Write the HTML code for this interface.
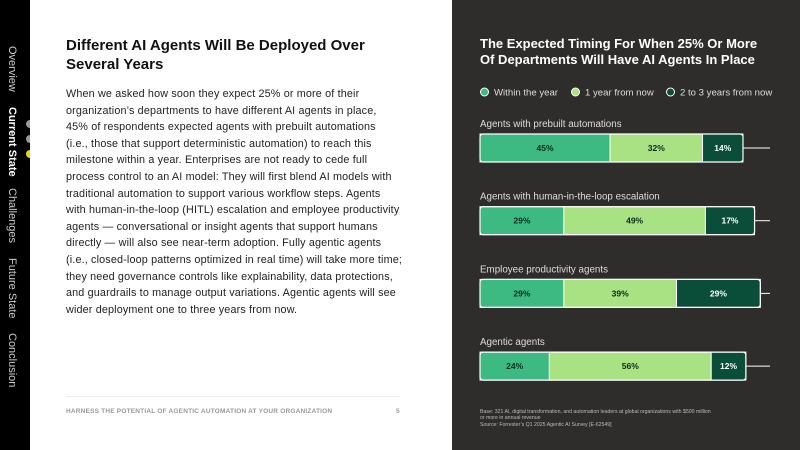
<!DOCTYPE html>
<html><head><meta charset="utf-8"><style>
body{margin:0;width:800px;height:450px;position:relative;overflow:hidden;font-family:"Liberation Sans",sans-serif;}
.side{position:absolute;left:0;top:0;width:30px;height:450px;background:#000;}
.nav{position:absolute;left:6px;color:#ccc;font-size:11px;writing-mode:vertical-rl;white-space:nowrap;}
.left{position:absolute;left:30px;top:0;width:422px;height:450px;background:#fff;}
.right{position:absolute;left:452px;top:0;width:348px;height:450px;background:#2e2d2c;}
h1{position:absolute;left:36px;top:36px;margin:0;font-size:15px;line-height:19px;font-weight:bold;color:#111;width:330px;}
.body{position:absolute;left:36px;top:86px;width:380px;font-size:10.8px;letter-spacing:.15px;line-height:16.6px;color:#222;margin:0;white-space:nowrap;}
.foot{position:absolute;left:36px;top:408px;font-size:6.5px;color:#999;font-weight:bold;letter-spacing:.2px;}
.dot{position:absolute;width:8px;height:8px;border-radius:50%;left:26px;}
</style></head><body>
<div class="side">
<div class="nav" style="top:46px">Overview</div>
<div class="nav" style="top:107px;color:#fff;font-weight:bold">Current State</div>
<div class="nav" style="top:188px">Challenges</div>
<div class="nav" style="top:258px">Future State</div>
<div class="nav" style="top:333px">Conclusion</div>
</div>
<div class="dot" style="top:120px;background:#999"></div>
<div class="dot" style="top:135px;background:#999"></div>
<div class="dot" style="top:150px;background:#f2d312"></div>
<div class="left">
<h1>Different AI Agents Will Be Deployed Over Several Years</h1>
<p class="body">When we asked how soon they expect 25% or more of their<br>organization’s departments to have different AI agents in place,<br>45% of respondents expected agents with prebuilt automations<br>(i.e., those that support deterministic automation) to reach this<br>milestone within a year. Enterprises are not ready to cede full<br>process control to an AI model: They will first blend AI models with<br>traditional automation to support various workflow steps. Agents<br>with human-in-the-loop (HITL) escalation and employee productivity<br>agents — conversational or insight agents that support humans<br>directly — will also see near-term adoption. Fully agentic agents<br>(i.e., closed-loop patterns optimized in real time) will take more time;<br>they need governance controls like explainability, data protections,<br>and guardrails to manage output variations. Agentic agents will see<br>wider deployment one to three years from now.</p>
<div style="position:absolute;left:36px;top:396px;width:334px;border-top:1px solid #eee"></div>
<div class="foot">HARNESS THE POTENTIAL OF AGENTIC AUTOMATION AT YOUR ORGANIZATION</div>
<div class="foot" style="left:366px">5</div>
</div>
<div class="right"></div>
<svg id="chart" width="800" height="450" style="position:absolute;left:0;top:0">
<text x="480" y="48" fill="#fff" font-size="13" font-weight="bold">The Expected Timing For When 25% Or More</text>
<text x="480" y="64" fill="#fff" font-size="13" font-weight="bold">Of Departments Will Have AI Agents In Place</text>
<g>
<circle cx="484.5" cy="92" r="4" fill="#3dba82" stroke="#fff" stroke-width="1"/>
<text x="494" y="95.5" fill="#ddd" font-size="9.6">Within the year</text>
<circle cx="575.5" cy="92" r="4" fill="#a8e282" stroke="#fff" stroke-width="1"/>
<text x="585" y="95.5" fill="#ddd" font-size="9.6">1 year from now</text>
<circle cx="670.5" cy="92" r="4" fill="#0a4d38" stroke="#fff" stroke-width="1"/>
<text x="680" y="95.5" fill="#ddd" font-size="9.6">2 to 3 years from now</text>
</g>
<g id="bars"></g>
<text x="480" y="413" fill="#bbb" font-size="5.2">Base: 321 AI, digital transformation, and automation leaders at global organizations with $500 million</text>
<text x="480" y="419" fill="#bbb" font-size="5.2">or more in annual revenue</text>
<text x="480" y="426" fill="#bbb" font-size="5.2">Source: Forrester’s Q1 2025 Agentic AI Survey [E-62549]</text>
</svg>
<script>
const categories=["Agents with prebuilt automations","Agents with human-in-the-loop escalation","Employee productivity agents","Agentic agents"];
const withinYear=[45,29,29,24];
const oneYear=[32,49,39,56];
const twoToThree=[14,17,29,12];
const colors=["#3dba82","#a8e282","#0a4d38"];
const x0=480,scale=2.89,y0=134,step=72.7,barH=28;
const xs=v=>v*scale;
const g=document.getElementById('bars');
const NS="http://www.w3.org/2000/svg";
function mk(t,a){const e=document.createElementNS(NS,t);for(const k in a)e.setAttribute(k,a[k]);return e;}
categories.forEach((c,i)=>{
  const y=y0+i*step;
  const lab=mk('text',{x:x0,y:y-7,fill:'#ddd','font-size':9.8});
  lab.textContent=c;
  
  
  g.appendChild(lab);
  const vals=[withinYear[i],oneYear[i],twoToThree[i]];
  const total=vals.reduce((a,b)=>a+b,0);
  const line=mk('line',{x1:x0+xs(total),x2:770,y1:y+barH/2,y2:y+barH/2,stroke:'#fff','stroke-width':1});
  
  
  g.appendChild(line);
  let x=x0;
  vals.forEach((v,j)=>{
    const r=mk('rect',{x:x,y:y,width:xs(v),height:barH,fill:colors[j],stroke:'#fff','stroke-width':1});
    
    
    g.appendChild(r);
    const t=mk('text',{x:x+xs(v)/2,y:y+barH/2+3,'text-anchor':'middle','font-size':8.5,'font-weight':'bold',fill:j==2?'#fff':'#0d2a1c'});
    t.textContent=v+'%';
    
    
    g.appendChild(t);
    x+=xs(v);
  });
  const o=mk('rect',{x:x0,y:y,width:xs(total),height:barH,rx:3,fill:'none',stroke:'#fff','stroke-width':1.2});
  
  
  g.appendChild(o);
});
</script>
</body></html>
